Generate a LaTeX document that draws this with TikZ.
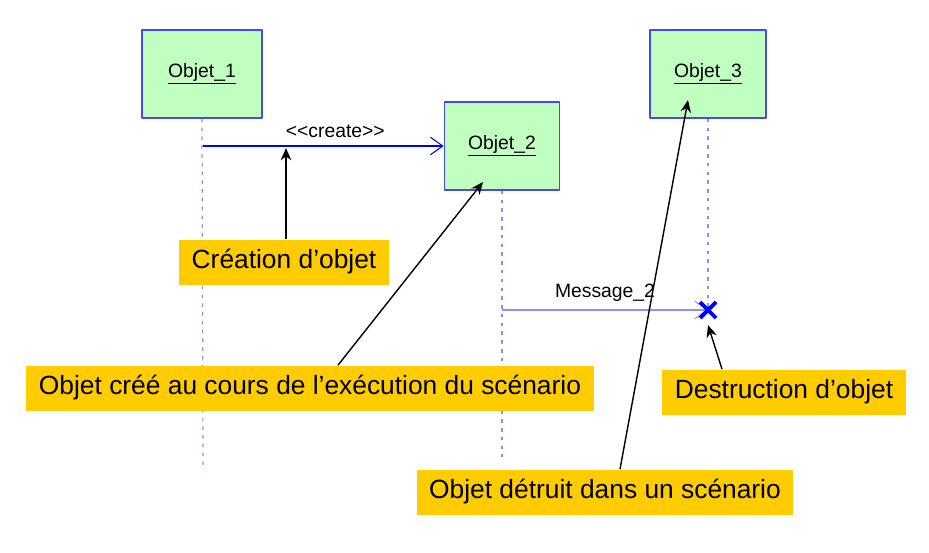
\documentclass[tikz,border=0pt]{standalone}
\usepackage{fontspec}
\setmainfont{Liberation Sans}
\usetikzlibrary{arrows.meta,calc}
\definecolor{objfill}{HTML}{C0FFC0}
\definecolor{objline}{HTML}{4848F0}
\definecolor{lifeline}{HTML}{8C8CFF}
\definecolor{notefill}{HTML}{FFCC00}
\tikzset{
  objbox/.style={draw=objline, line width=1pt, fill=objfill, minimum height=1.76cm, font=\fontsize{11}{13}\selectfont},
  lifeln/.style={lifeline, line width=0.7pt, dash pattern=on 2pt off 3pt},
  msg/.style={blue, line width=0.6pt, -{Straight Barb[length=7pt,width=10pt,line width=0.6pt]}},
  note/.style={fill=notefill, inner xsep=0.25cm, minimum height=0.9cm, font=\fontsize{15}{18}\selectfont},
  pointer/.style={black, line width=0.8pt, -{Stealth[length=7pt,width=6pt]}}
}
\begin{document}
\begin{tikzpicture}[x=0.02cm, y=-0.02cm, line join=round]
  \useasboundingbox (0,0) rectangle (929,552);
  % objects and their lifelines
  \foreach \n/\x/\y/\w in {1/202/74/2.4cm, 2/502/146/2.3cm, 3/708/74/2.32cm} {
    \node[objbox, minimum width=\w] (obj\n) at (\x,\y) {\underline{Objet\_\n}};}
  \coordinate (end1) at (203,465);
  \coordinate (end2) at (502,457);
  \coordinate (kill) at (708,310);
  \draw[lifeln] (obj1.south) -- (end1);
  \draw[lifeln] (obj2.south) -- (end2);
  \draw[lifeln] (obj3.south) -- (kill);
  % messages
  \coordinate (m1) at (203,146);
  \coordinate (m2) at (502,310);
  \draw[msg] (m1) -- node[above=1pt, pos=0.55, black, font=\fontsize{11}{13}\selectfont] {{<}{<}create{>}{>}} (obj2.west);
  \draw[msg, draw=lifeline] (m2) -- node[above=1pt, pos=0.5, black, font=\fontsize{11}{13}\selectfont] {Message\_2} (kill);
  \draw[blue, line width=2.2pt] ($(kill)+(-8,-8)$) -- ($(kill)+(8,8)$) ($(kill)+(-8,8)$) -- ($(kill)+(8,-8)$);
  % notes
  \node[note] (creation) at (284,262) {Création d’objet};
  \node[note] (cree) at (310,388) {Objet créé au cours de l’exécution du scénario};
  \node[note] (destr) at (784,392) {Destruction d’objet};
  \node[note] (detruit) at (605,492) {Objet détruit dans un scénario};
  \coordinate (p1) at (286,148);
  \coordinate (p2) at (483,182);
  \coordinate (p3) at (708,325);
  \coordinate (p4) at (688,100);
  \draw[pointer] (creation.north -| p1) -- (p1);
  \draw[pointer] ($(cree.north)+(28,0)$) -- (p2);
  \draw[pointer] ($(destr.north)+(-62,0)$) -- (p3);
  \draw[pointer] ($(detruit.north)+(15,0)$) -- (p4);
\end{tikzpicture}
\end{document}
